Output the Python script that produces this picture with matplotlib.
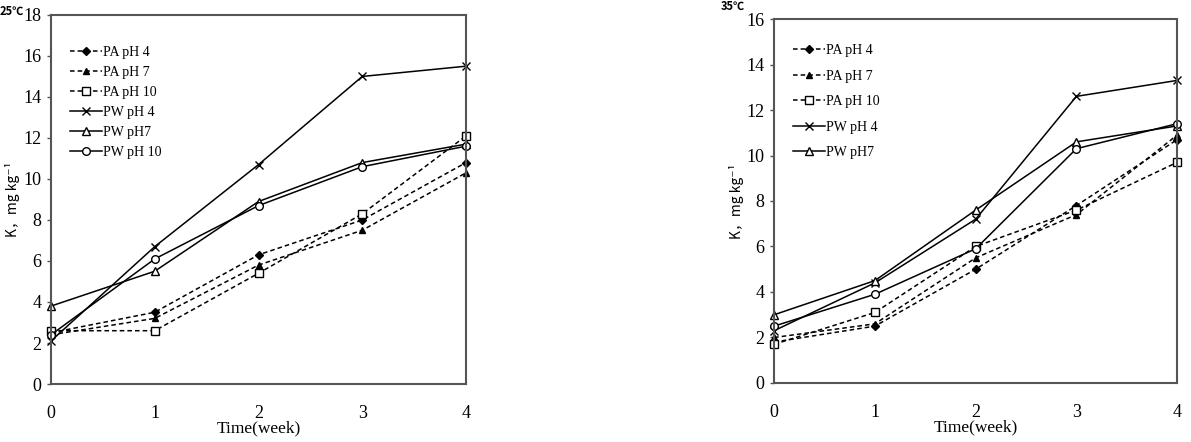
import matplotlib
matplotlib.use("Agg")
import matplotlib.pyplot as plt

weeks = [0, 1, 2, 3, 4]
series_labels = ["PA pH 4", "PA pH 7", "PA pH 10", "PW pH 4", "PW pH7", "PW pH 10"]

# 25 C
pa4_25 = [2.5, 3.5, 6.3, 8.0, 10.8]
pa7_25 = [2.4, 3.2, 5.8, 7.5, 10.3]
pa10_25 = [2.6, 2.6, 5.4, 8.3, 12.1]
pw4_25 = [2.1, 6.7, 10.7, 15.0, 15.5]
pw7_25 = [3.8, 5.5, 8.9, 10.8, 11.7]
pw10_25 = [2.4, 6.1, 8.7, 10.6, 11.6]

# 35 C
pa4_35 = [1.8, 2.5, 5.0, 7.8, 10.7]
pa7_35 = [2.0, 2.6, 5.5, 7.4, 10.9]
pa10_35 = [1.7, 3.1, 6.0, 7.6, 9.7]
pw4_35 = [2.3, 4.4, 7.2, 12.6, 13.3]
pw7_35 = [3.0, 4.5, 7.6, 10.6, 11.3]
pw10_35 = [2.5, 3.9, 5.9, 10.3, 11.4]

styles = [
    dict(ls=(0, (3, 2)), marker="D", mfc="black", ms=4.5),
    dict(ls=(0, (3, 2)), marker="^", mfc="black", ms=5),
    dict(ls=(0, (3, 2)), marker="s", mfc="white", ms=5.5),
    dict(ls="-", marker="x", mfc="black", ms=6),
    dict(ls="-", marker="^", mfc="white", ms=5.5),
    dict(ls="-", marker="o", mfc="white", ms=5.5),
]

serif = ["Liberation Serif", "DejaVu Serif"]
cjk = ["Noto Sans CJK SC", "DejaVu Sans"]

fig = plt.figure(figsize=(11.91, 4.42), dpi=100)
ax1 = fig.add_axes([0.0428, 0.1312, 0.3485, 0.835])
ax2 = fig.add_axes([0.650, 0.1335, 0.3384, 0.8235])

def draw(ax, data, ymax, legend_n, leg_y, leg_sp):
    for i, (ys, st) in enumerate(zip(data, styles)):
        lab = series_labels[i] if i < legend_n else "_nolegend_"
        ax.plot(weeks, ys, color="black", lw=1.1, linestyle=st["ls"],
                marker=st["marker"], mfc=st["mfc"], mec="black", ms=st["ms"],
                mew=1.0, label=lab, clip_on=False)
    ax.set_xlim(0, 4)
    ax.set_ylim(0, ymax)
    ax.set_xticks(weeks)
    ax.set_yticks(range(0, ymax + 1, 2))
    for s in ax.spines.values():
        s.set_color("#555555")
        s.set_linewidth(1.5)
    ax.tick_params(axis="x", length=0, pad=15, labelsize=13)
    ax.tick_params(axis="y", length=3, width=1, color="#555555", labelsize=13, pad=4)
    for t in ax.get_xticklabels() + ax.get_yticklabels():
        t.set_family(serif)
    ax.set_xlabel("Time(week)", family=serif, fontsize=12.5, labelpad=-1)
    ax.set_ylabel("K，mg kg⁻¹", family=cjk, fontsize=10, labelpad=2)
    ax.legend(loc="upper left", bbox_to_anchor=(0.015, leg_y), frameon=False,
              handlelength=2.3, handletextpad=0.1, labelspacing=leg_sp,
              prop=dict(family=serif, size=10))

draw(ax1, [pa4_25, pa7_25, pa10_25, pw4_25, pw7_25, pw10_25], 18, 6, 0.95, 0.5)
draw(ax2, [pa4_35, pa7_35, pa10_35, pw4_35, pw7_35, pw10_35], 16, 5, 0.965, 0.9)

fig.text(0.0, 0.975, "25℃", family=cjk, fontsize=8, fontweight="bold", va="center")
fig.text(0.605, 0.985, "35℃", family=cjk, fontsize=8, fontweight="bold", va="center")

fig.savefig("out.png", dpi=100)
